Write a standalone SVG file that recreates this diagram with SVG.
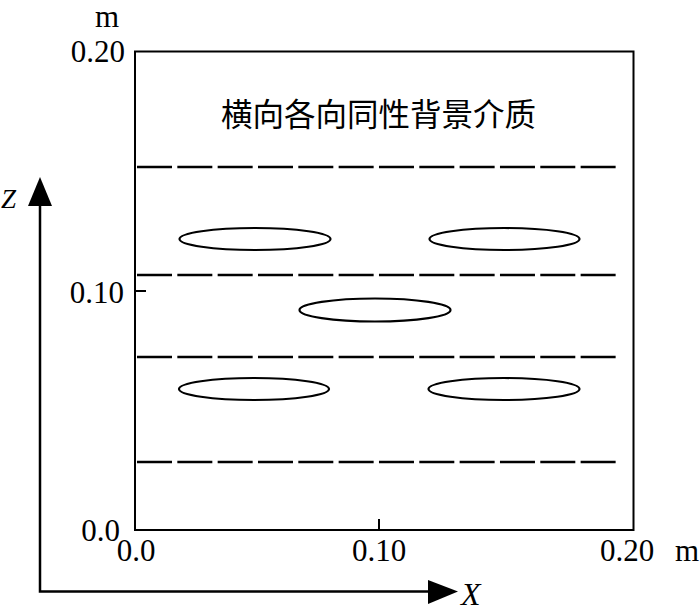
<svg xmlns="http://www.w3.org/2000/svg" width="700" height="615" viewBox="0 0 700 615">
<style>
.t{font-family:"Liberation Serif","Times New Roman",serif;font-size:31px;fill:#000}
.ax{font-family:"Liberation Serif","Times New Roman",serif;font-style:italic;fill:#000}
.cjk{font-family:"Liberation Serif","Noto Sans CJK SC",serif;font-size:31.5px;fill:#000}
.dash{stroke:#000;stroke-width:2.5;stroke-dasharray:35 5.33;fill:none}
.el{stroke:#000;stroke-width:2.2;fill:none}
.ln{stroke:#000;stroke-width:2;fill:none}
</style>
<rect width="700" height="615" fill="#fff"/>
<g id="frame">
<rect class="ln" x="135" y="51.5" width="498.5" height="478.5"/>
<line class="ln" x1="135" y1="291" x2="146" y2="291"/>
<line class="ln" x1="379" y1="519" x2="379" y2="530"/>
</g>
<g id="layers">
<line class="dash" x1="137" y1="167" x2="617" y2="167"/>
<line class="dash" x1="137" y1="275" x2="617" y2="275"/>
<line class="dash" x1="137" y1="357" x2="617" y2="357"/>
<line class="dash" x1="137" y1="462" x2="617" y2="462"/>
</g>
<g id="inclusions">
<ellipse class="el" cx="255" cy="239" rx="75.5" ry="11"/>
<ellipse class="el" cx="504.5" cy="239" rx="75" ry="11"/>
<ellipse class="el" cx="375" cy="310" rx="75.5" ry="11.5"/>
<ellipse class="el" cx="254" cy="389" rx="75" ry="11"/>
<ellipse class="el" cx="504" cy="389" rx="75.5" ry="11"/>
</g>
<g id="axes">
<polyline points="40,204 40,591.5 430,591.5" fill="none" stroke="#000" stroke-width="2.5"/>
<polygon points="40,177 28,206 52,206"/>
<polygon points="458,591.5 428,580 428,604"/>
</g>
<g id="labels">
<text class="t" x="95" y="27">m</text>
<text class="t" x="125" y="62" text-anchor="end">0.20</text>
<text class="t" x="124" y="303" text-anchor="end">0.10</text>
<text class="t" x="120" y="541" text-anchor="end">0.0</text>
<text class="t" x="136" y="561" text-anchor="middle">0.0</text>
<text class="t" x="379" y="561" text-anchor="middle">0.10</text>
<text class="t" x="627" y="561" text-anchor="middle">0.20</text>
<text class="t" x="675" y="561">m</text>
<text class="ax" x="1" y="208" font-size="27">Z</text>
<text class="ax" x="461" y="605" font-size="32">X</text>
<text class="cjk" x="221" y="126">横向各向同性背景介质</text>
</g>
</svg>
